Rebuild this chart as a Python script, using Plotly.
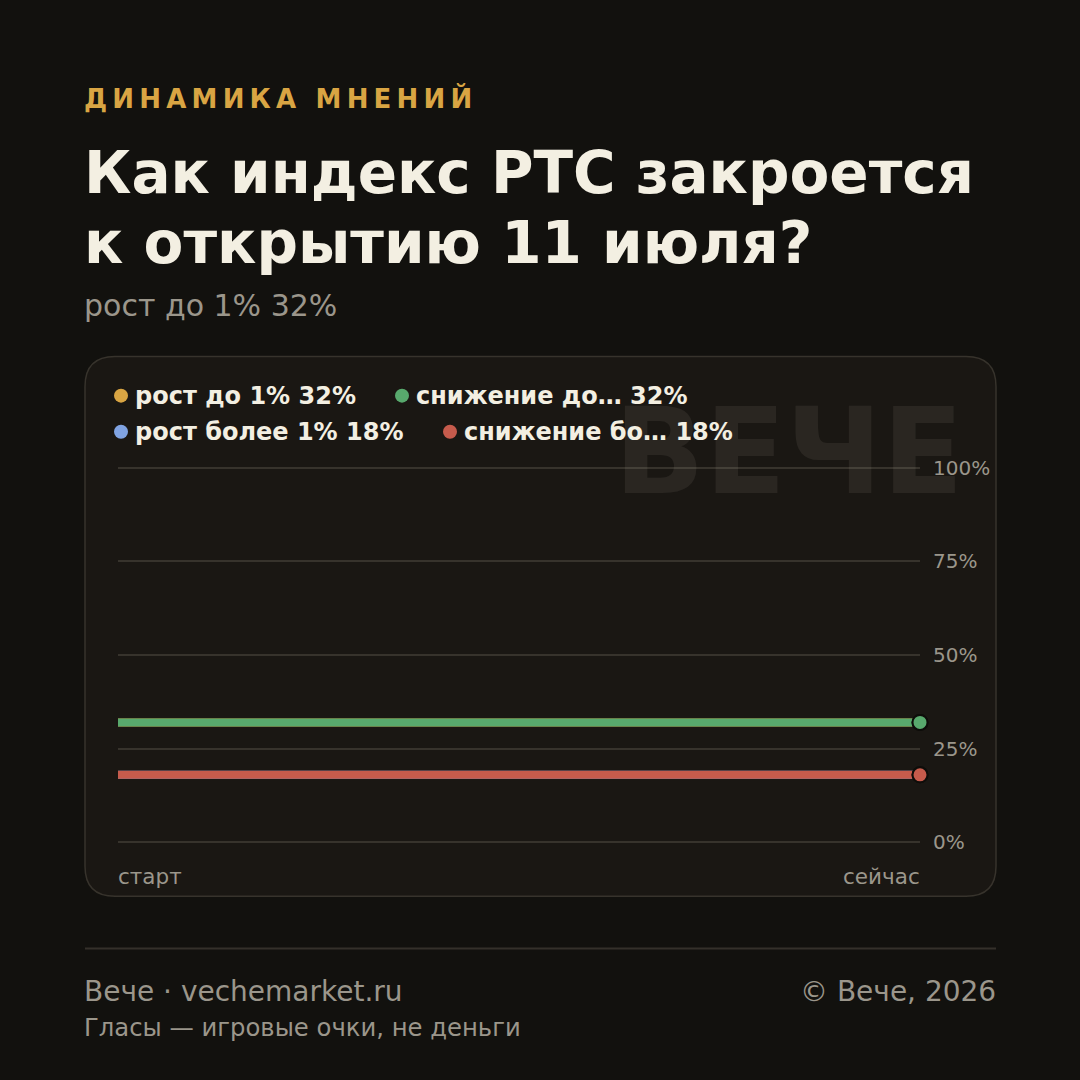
import plotly.graph_objects as go

# ---------------- data ----------------
kicker = "ДИНАМИКА МНЕНИЙ"
title_lines = ["Как индекс РТС закроется", "к открытию 11 июля?"]
x_labels = ["старт", "сейчас"]
x_vals = [0, 1]
series_names = ["рост до 1%", "снижение до 1%", "рост более 1%", "снижение более 1%"]
series_values = [[32, 32], [32, 32], [18, 18], [18, 18]]
series_colors = ["#d9a543", "#58a96d", "#80a3e2", "#c65b4c"]
y_ticks = [0, 25, 50, 75, 100]
y_ticktext = ["0%", "25%", "50%", "75%", "100%"]
watermark = "ВЕЧЕ"
footer_left = "Вече · vechemarket.ru"
footer_right = "© Вече, 2026"
footer_note = "Гласы — игровые очки, не деньги"

# ---------------- style ----------------
FONT = "DejaVu Sans"
BG = "#12110e"
CARD = "#1a1713"
CARD_LINE = "#37332c"
GRID = "#37332c"
MUTED = "#9b968b"
TEXT = "#f3efe2"
GOLD = "#d9a543"

W = H = 1080
L, R = 118, 920               # plot area x in pixels
Y0PX, Y100PX = 842, 468       # pixel rows of 0% and 100%
YPAD = 1.0                    # axis padding in value units so edge gridlines show
unit = (Y0PX - Y100PX) / 100.0
T = Y100PX - YPAD * unit
B = Y0PX + YPAD * unit


def px(x):
    return (x - L) / (R - L)


def py(y):
    return (B - y) / (B - T)


def short(name):
    return name if len(name) <= 13 else name[:11] + "…"


fig = go.Figure()

for name, vals, col in zip(series_names, series_values, series_colors):
    fig.add_trace(go.Scatter(x=x_vals, y=vals, mode="lines",
                             line=dict(color=col, width=8),
                             hoverinfo="skip", showlegend=False, cliponaxis=False))
for name, vals, col in zip(series_names, series_values, series_colors):
    fig.add_trace(go.Scatter(x=[x_vals[-1]], y=[vals[-1]], mode="markers",
                             marker=dict(color=col, size=15,
                                         line=dict(color="#0e0d0a", width=2)),
                             hoverinfo="skip", showlegend=False, cliponaxis=False))

shapes = []
x0, x1, y0, y1, r = 85, 996, 357, 896, 30
path = (f"M {px(x0 + r)},{py(y0)} L {px(x1 - r)},{py(y0)} "
        f"Q {px(x1)},{py(y0)} {px(x1)},{py(y0 + r)} "
        f"L {px(x1)},{py(y1 - r)} Q {px(x1)},{py(y1)} {px(x1 - r)},{py(y1)} "
        f"L {px(x0 + r)},{py(y1)} Q {px(x0)},{py(y1)} {px(x0)},{py(y1 - r)} "
        f"L {px(x0)},{py(y0 + r)} Q {px(x0)},{py(y0)} {px(x0 + r)},{py(y0)} Z")
shapes.append(dict(type="path", path=path, xref="paper", yref="paper",
                   fillcolor=CARD, line=dict(color=CARD_LINE, width=1.5), layer="below"))
shapes.append(dict(type="line", xref="paper", yref="paper",
                   x0=px(85), x1=px(996), y0=py(948), y1=py(948),
                   line=dict(color="#34302a", width=2)))

annotations = []


def ann(text, x, y, size, color, xanchor="left", bold=False):
    shift = -3 if xanchor == "left" else 3
    annotations.append(dict(text=f"<b>{text}</b>" if bold else text,
                            x=px(x + shift), y=py(y), xref="paper", yref="paper",
                            xanchor=xanchor, yanchor="middle", showarrow=False,
                            font=dict(family=FONT, size=size, color=color)))


ann(watermark, 962, 452, 119, "rgba(240,232,210,0.075)", xanchor="right", bold=True)

sp = "\u2009"
ann(sp.join(kicker), 85, 99, 26, GOLD, bold=True)
ann(title_lines[0], 85, 174, 58, TEXT, bold=True)
ann(title_lines[1], 85, 244, 58, TEXT, bold=True)
ann(f"{series_names[0]} {series_values[0][-1]}%", 85, 306, 30, MUTED)

legend_pos = [(121, 396), (402, 396), (121, 432), (450, 432)]
for (lx, ly), name, vals, col in zip(legend_pos, series_names, series_values, series_colors):
    shapes.append(dict(type="circle", xref="paper", yref="paper",
                       xsizemode="pixel", ysizemode="pixel",
                       xanchor=px(lx), yanchor=py(ly), x0=-7, x1=7, y0=-7, y1=7,
                       fillcolor=col, line=dict(width=0)))
    ann(f"{short(name)} {vals[-1]}%", lx + 15, ly, 24, TEXT, bold=True)

annotations.append(dict(text=x_labels[0], x=x_vals[0], y=py(876), xref="x", yref="paper",
                        xanchor="left", yanchor="middle", showarrow=False, xshift=-2,
                        font=dict(family=FONT, size=21.5, color=MUTED)))
annotations.append(dict(text=x_labels[1], x=x_vals[-1], y=py(876), xref="x", yref="paper",
                        xanchor="right", yanchor="middle", showarrow=False, xshift=2,
                        font=dict(family=FONT, size=21.5, color=MUTED)))

ann(footer_left, 85, 991, 28, MUTED)
ann(footer_right, 995, 991, 28, MUTED, xanchor="right")
ann(footer_note, 85, 1027, 24.3, MUTED)

fig.update_layout(
    width=W, height=H,
    margin=dict(l=L, r=W - R, t=T, b=H - B, pad=0),
    paper_bgcolor=BG, plot_bgcolor="rgba(0,0,0,0)",
    showlegend=False,
    shapes=shapes, annotations=annotations,
    font=dict(family=FONT),
    xaxis=dict(range=[x_vals[0], x_vals[-1]], showgrid=False, zeroline=False,
               showticklabels=False, showline=False, fixedrange=True),
    yaxis=dict(range=[-YPAD, 100 + YPAD], side="right", tickvals=y_ticks, ticktext=y_ticktext,
               showgrid=True, gridcolor=GRID, gridwidth=2, zeroline=False, showline=False,
               ticks="", ticklabelstandoff=12,
               tickfont=dict(family=FONT, size=20, color=MUTED), fixedrange=True),
)

fig.write_html("out.html", config={"displayModeBar": False})
